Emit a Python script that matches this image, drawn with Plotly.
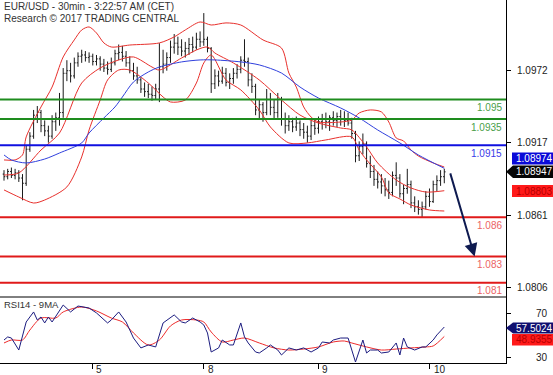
import plotly.graph_objects as go

# ---------------- DATA ----------------
bar_idx = list(range(120))
opens = [1.0893, 1.0891, 1.0895, 1.0892, 1.0894, 1.0890, 1.0886, 1.0912, 1.0922, 1.0938,
         1.0940, 1.0930, 1.0926, 1.0922, 1.0933, 1.0936, 1.0940, 1.0970, 1.0972, 1.0968,
         1.0978, 1.0983, 1.0984, 1.0982, 1.0983, 1.0979, 1.0981, 1.0977, 1.0974, 1.0973,
         1.0978, 1.0985, 1.0986, 1.0983, 1.0978, 1.0972, 1.0968, 1.0965, 1.0958, 1.0956,
         1.0954, 1.0953, 1.0958, 1.0975, 1.0977, 1.0982, 1.0990, 1.0993, 1.0990, 1.0987,
         1.0989, 1.0992, 1.0990, 1.0996, 1.0994, 1.0996, 1.0989, 1.0962, 1.0968, 1.0964,
         1.0970, 1.0963, 1.0966, 1.0970, 1.0973, 1.0980, 1.0979, 1.0965, 1.0960, 1.0942,
         1.0946, 1.0940, 1.0950, 1.0944, 1.0940, 1.0950, 1.0935, 1.0930, 1.0933, 1.0929,
         1.0932, 1.0927, 1.0925, 1.0922, 1.0930, 1.0928, 1.0933, 1.0935, 1.0933, 1.0936,
         1.0934, 1.0937, 1.0935, 1.0934, 1.0932, 1.0924, 1.0907, 1.0914, 1.0916, 1.0901,
         1.0895, 1.0889, 1.0887, 1.0884, 1.0881, 1.0879, 1.0892, 1.0890, 1.0878, 1.0882,
         1.0885, 1.0871, 1.0868, 1.0866, 1.0868, 1.0876, 1.0872, 1.0885, 1.0888, 1.0891]
highs = [1.0896, 1.0897, 1.0898, 1.0897, 1.0896, 1.0893, 1.0915, 1.0925, 1.0942, 1.0945,
         1.0942, 1.0934, 1.0930, 1.0938, 1.0940, 1.0955, 1.0974, 1.0980, 1.0978, 1.0982,
         1.0986, 1.0988, 1.0987, 1.0986, 1.0985, 1.0984, 1.0983, 1.0981, 1.0979, 1.0982,
         1.0988, 1.0992, 1.0991, 1.0987, 1.0983, 1.0978, 1.0975, 1.0967, 1.0963, 1.0962,
         1.0960, 1.0962, 1.0993, 1.0988, 1.0986, 1.0995, 1.1000, 1.0998, 1.0996, 1.0994,
         1.0997, 1.0998, 1.1001, 1.1002, 1.1016, 1.0998, 1.0990, 1.0973, 1.0972, 1.0975,
         1.0974, 1.0970, 1.0974, 1.0977, 1.0983, 1.0996, 1.0982, 1.0970, 1.0962, 1.0950,
         1.0948, 1.0958, 1.0955, 1.0950, 1.0955, 1.0952, 1.0940, 1.0938, 1.0936, 1.0937,
         1.0934, 1.0932, 1.0930, 1.0934, 1.0935, 1.0937, 1.0939, 1.0940, 1.0938, 1.0941,
         1.0940, 1.0942, 1.0941, 1.0940, 1.0936, 1.0926, 1.0918, 1.0924, 1.0918, 1.0907,
         1.0900, 1.0895, 1.0893, 1.0890, 1.0888, 1.0895, 1.0902, 1.0893, 1.0885, 1.0897,
         1.0888, 1.0876, 1.0873, 1.0872, 1.0880, 1.0882, 1.0888, 1.0892, 1.0896, 1.0897]
lows = [1.0888, 1.0889, 1.0890, 1.0889, 1.0887, 1.0873, 1.0884, 1.0910, 1.0920, 1.0932,
        1.0925, 1.0922, 1.0917, 1.0920, 1.0926, 1.0930, 1.0936, 1.0964, 1.0963, 1.0966,
        1.0975, 1.0978, 1.0979, 1.0978, 1.0976, 1.0976, 1.0972, 1.0971, 1.0969, 1.0971,
        1.0976, 1.0980, 1.0979, 1.0975, 1.0970, 1.0965, 1.0962, 1.0955, 1.0952, 1.0951,
        1.0949, 1.0950, 1.0948, 1.0970, 1.0972, 1.0978, 1.0985, 1.0984, 1.0983, 1.0982,
        1.0984, 1.0986, 1.0988, 1.0990, 1.0991, 1.0986, 1.0955, 1.0958, 1.0960, 1.0962,
        1.0960, 1.0958, 1.0962, 1.0966, 1.0970, 1.0975, 1.0960, 1.0955, 1.0938, 1.0935,
        1.0933, 1.0938, 1.0938, 1.0935, 1.0936, 1.0930, 1.0924, 1.0926, 1.0925, 1.0926,
        1.0922, 1.0920, 1.0917, 1.0919, 1.0923, 1.0924, 1.0927, 1.0928, 1.0926, 1.0930,
        1.0929, 1.0930, 1.0929, 1.0930, 1.0920, 1.0902, 1.0903, 1.0908, 1.0898, 1.0890,
        1.0884, 1.0882, 1.0878, 1.0876, 1.0874, 1.0876, 1.0884, 1.0875, 1.0870, 1.0878,
        1.0867, 1.0864, 1.0862, 1.0860, 1.0866, 1.0868, 1.0871, 1.0880, 1.0884, 1.0886]
closes = [1.0891, 1.0895, 1.0892, 1.0894, 1.0890, 1.0886, 1.0912, 1.0922, 1.0938, 1.0940,
          1.0930, 1.0926, 1.0922, 1.0933, 1.0936, 1.0940, 1.0970, 1.0972, 1.0968, 1.0978,
          1.0983, 1.0984, 1.0982, 1.0983, 1.0979, 1.0981, 1.0977, 1.0974, 1.0973, 1.0978,
          1.0985, 1.0986, 1.0983, 1.0978, 1.0972, 1.0968, 1.0965, 1.0958, 1.0956, 1.0954,
          1.0953, 1.0958, 1.0975, 1.0977, 1.0982, 1.0990, 1.0993, 1.0990, 1.0987, 1.0989,
          1.0992, 1.0990, 1.0996, 1.0994, 1.0996, 1.0989, 1.0962, 1.0968, 1.0964, 1.0970,
          1.0963, 1.0966, 1.0970, 1.0973, 1.0980, 1.0979, 1.0965, 1.0960, 1.0942, 1.0946,
          1.0940, 1.0950, 1.0944, 1.0940, 1.0950, 1.0935, 1.0930, 1.0933, 1.0929, 1.0932,
          1.0927, 1.0925, 1.0922, 1.0930, 1.0928, 1.0933, 1.0935, 1.0933, 1.0936, 1.0934,
          1.0937, 1.0935, 1.0934, 1.0932, 1.0924, 1.0907, 1.0914, 1.0916, 1.0901, 1.0895,
          1.0889, 1.0887, 1.0884, 1.0881, 1.0879, 1.0892, 1.0890, 1.0878, 1.0882, 1.0885,
          1.0871, 1.0868, 1.0866, 1.0868, 1.0876, 1.0872, 1.0885, 1.0888, 1.0891, 1.08947]

bb_upper_x = [0, 3, 5, 6, 10, 13, 16, 19, 21, 23, 25, 27, 29, 34, 42, 46, 49, 53, 56, 60,
              64, 70, 75, 77, 79, 81, 83, 85, 91, 94, 96, 99, 102, 104, 106, 108, 110, 112, 116, 119]
bb_upper = [1.09038, 1.09038, 1.09076, 1.09214, 1.09443, 1.09595, 1.09825, 1.09955, 1.10031, 1.10054,
            1.10008, 1.09932, 1.09901, 1.09916, 1.09932, 1.09978, 1.10031, 1.10092, 1.10069, 1.10085,
            1.10069, 1.09955, 1.09893, 1.09702, 1.09595, 1.09443, 1.09366, 1.09328, 1.09328, 1.09343,
            1.09397, 1.09420, 1.09405, 1.09328, 1.09206, 1.09183, 1.09114, 1.09068, 1.09015, 1.08984]
bb_mid_x = [0, 4, 10, 15, 21, 26, 31, 35, 40, 42, 48, 52, 55, 57, 62, 69, 75, 80, 85, 91,
            94, 98, 101, 106, 110, 114, 119]
bb_mid = [1.08923, 1.08939, 1.09114, 1.09244, 1.09626, 1.09741, 1.09802, 1.09825, 1.09748, 1.09725,
          1.09817, 1.09878, 1.09901, 1.09855, 1.09779, 1.09649, 1.09496, 1.09381, 1.09320, 1.09282,
          1.09267, 1.09137, 1.09015, 1.08885, 1.08824, 1.08793, 1.08803]
bb_lower_x = [0, 4, 8, 11, 17, 21, 23, 26, 28, 31, 34, 39, 43, 45, 49, 52, 54, 56, 60, 64,
              69, 72, 77, 82, 87, 94, 96, 98, 102, 104, 107, 110, 115, 119]
bb_lower = [1.08809, 1.08755, 1.08709, 1.08732, 1.08832, 1.09061, 1.09267, 1.09496, 1.09649, 1.09725,
            1.09725, 1.09626, 1.09519, 1.09481, 1.09496, 1.09626, 1.09779, 1.09840, 1.09649, 1.09573,
            1.09420, 1.09290, 1.09168, 1.09168, 1.09191, 1.09214, 1.09114, 1.09038, 1.08908, 1.08786,
            1.08740, 1.08694, 1.08656, 1.08648]
ma_x = [0, 2, 6, 11, 15, 21, 23, 27, 30, 32, 35, 39, 42, 48, 53, 57, 64, 69, 75, 80,
        85, 91, 96, 101, 107, 112, 119]
ma_long = [1.09076, 1.09038, 1.09015, 1.09045, 1.09091, 1.09168, 1.09244, 1.09359, 1.09443, 1.09519,
           1.09634, 1.09710, 1.09748, 1.09787, 1.09802, 1.09802, 1.09787, 1.09764, 1.09702, 1.09595,
           1.09511, 1.09435, 1.09359, 1.09267, 1.09168, 1.09076, 1.08974]

rsi_x = [0, 1, 2, 4, 6, 8, 9, 10, 11, 12, 13, 15, 16, 18, 20, 23, 25, 28, 29, 31,
         33, 35, 37, 39, 41, 43, 45, 46, 48, 49, 51, 53, 54, 55, 56, 58, 59, 61, 62, 64,
         65, 66, 68, 69, 71, 72, 74, 75, 77, 79, 81, 83, 85, 86, 88, 89, 91, 93, 94, 95,
         97, 98, 99, 101, 102, 104, 106, 107, 108, 109, 111, 113, 114, 116, 117, 119]
rsi = [45.7, 48.5, 47.5, 36.6, 62.1, 71.2, 63.9, 66.6, 61.2, 66.6, 62.1, 73.0, 77.5, 71.2, 76.6,
       74.8, 70.3, 61.2, 63.9, 71.2, 62.1, 47.5, 38.5, 41.2, 39.4, 61.2, 65.7, 68.5, 62.1, 61.2,
       65.7, 62.1, 59.4, 52.1, 34.8, 38.5, 45.7, 41.2, 41.2, 61.2, 48.5, 43.0, 34.8, 33.9, 38.5,
       41.2, 36.6, 32.1, 38.5, 36.6, 38.5, 34.8, 38.5, 43.9, 43.0, 45.7, 47.5, 47.5, 36.6, 25.7,
       45.7, 33.9, 36.6, 36.6, 33.9, 34.8, 43.0, 32.1, 47.5, 39.4, 36.6, 39.4, 39.4, 45.7, 50.3,
       57.5024]
rsi_ma_x = [0, 2, 5, 7, 10, 14, 16, 21, 25, 29, 32, 35, 39, 42, 45, 48, 52, 54, 56, 59,
            62, 65, 69, 73, 77, 81, 85, 89, 92, 94, 98, 102, 106, 110, 114, 116, 119]
rsi_ma = [43.0, 45.7, 45.7, 54.8, 65.7, 65.7, 71.2, 75.7, 72.1, 65.7, 62.1, 52.1, 41.2, 45.7, 58.5,
          63.9, 63.9, 62.1, 53.0, 43.9, 45.7, 47.5, 43.0, 38.5, 36.6, 37.5, 39.4, 43.9, 44.8, 43.0,
          39.4, 36.6, 37.5, 38.5, 39.4, 40.3, 48.9355]

levels = [1.095, 1.0935, 1.0915, 1.086, 1.083, 1.081]
level_labels = ["1.095", "1.0935", "1.0915", "1.086", "1.083", "1.081"]
level_colors = ["#1e8c1e", "#1e8c1e", "#1010e0", "#e01a1a", "#e01a1a", "#e01a1a"]
level_text_colors = ["#4a9e4a", "#4a9e4a", "#3a3ae8", "#ec6464", "#ec6464", "#ec6464"]

price_ticks = [1.0972, 1.0917, 1.0861, 1.0806]
rsi_ticks = [70, 30]
day_pos = [23.8, 54.0, 84.9, 115.1]
day_labels = ["5", "8", "9", "10"]
target = 1.083

# ---------------- LAYOUT HELPERS ----------------
PW, PH = 506.0, 363.0   # plot area in pixels (margins l=0,t=0)
def px(x):
    return x / PW
def py(y):
    return (PH - y) / PH

SPLIT = py(297)
FONT = "Liberation Sans, Arial, sans-serif"

fig = go.Figure()

fig.add_trace(go.Ohlc(x=bar_idx, open=opens, high=highs, low=lows, close=closes,
                      increasing_line_color="#1a1a1a", decreasing_line_color="#1a1a1a",
                      line_width=1, tickwidth=0.35, xaxis="x", yaxis="y", hoverinfo="skip"))

band_color = "#e8302c"
for bx, by in [(bb_upper_x, bb_upper), (bb_mid_x, bb_mid), (bb_lower_x, bb_lower)]:
    fig.add_trace(go.Scatter(x=bx, y=by, mode="lines", line=dict(color=band_color, width=1, shape="spline", smoothing=0.8),
                             xaxis="x", yaxis="y", hoverinfo="skip"))
fig.add_trace(go.Scatter(x=ma_x, y=ma_long, mode="lines", line=dict(color="#3040dd", width=1, shape="spline", smoothing=0.8),
                         xaxis="x", yaxis="y", hoverinfo="skip"))

fig.add_trace(go.Scatter(x=rsi_ma_x, y=rsi_ma, mode="lines", line=dict(color="#ee2a2a", width=1, shape="spline", smoothing=0.8),
                         xaxis="x", yaxis="y2", hoverinfo="skip"))
fig.add_trace(go.Scatter(x=rsi_x, y=rsi, mode="lines", line=dict(color="#1c1c80", width=1),
                         xaxis="x", yaxis="y2", hoverinfo="skip"))

shapes = []
annotations = []
for lv, lab, lc, tc in zip(levels, level_labels, level_colors, level_text_colors):
    shapes.append(dict(type="line", xref="paper", x0=0, x1=1, yref="y", y0=lv, y1=lv,
                       line=dict(color=lc, width=2), layer="above"))
    annotations.append(dict(xref="paper", x=px(504), yref="y", y=lv, yshift=-8, text=lab,
                            showarrow=False, xanchor="right", yanchor="middle",
                            font=dict(family=FONT, size=10, color=tc)))

# separator between panels
shapes.append(dict(type="line", xref="paper", x0=0, x1=1, yref="paper", y0=SPLIT, y1=SPLIT,
                   line=dict(color="#000000", width=1)))

# right-axis tick labels
for t in price_ticks:
    annotations.append(dict(xref="paper", x=px(550), yref="y", y=t, text=f"{t:.4f}", showarrow=False,
                            xanchor="right", yanchor="middle", font=dict(family=FONT, size=10, color="#222222")))
for t in rsi_ticks:
    annotations.append(dict(xref="paper", x=px(550), yref="y2", y=t, text=str(t), showarrow=False,
                            xanchor="right", yanchor="middle", font=dict(family=FONT, size=10, color="#222222")))
for d, lab in zip(day_pos, day_labels):
    annotations.append(dict(xref="x", x=d, xshift=2, yref="paper", y=py(369), text=lab, showarrow=False,
                            xanchor="left", yanchor="middle", font=dict(family=FONT, size=10, color="#222222")))

# value tags on the right
def tag(y0, y1, bg, txt, tc, arrow):
    if arrow:
        path = (f"M {px(506)},{py((y0 + y1) / 2)} L {px(513)},{py(y0)} L {px(553)},{py(y0)} "
                f"L {px(553)},{py(y1)} L {px(513)},{py(y1)} Z")
    else:
        path = (f"M {px(512)},{py(y0)} L {px(553)},{py(y0)} L {px(553)},{py(y1)} L {px(512)},{py(y1)} Z")
    shapes.append(dict(type="path", xref="paper", yref="paper", path=path, fillcolor=bg,
                       line=dict(width=0)))
    annotations.append(dict(xref="paper", x=px(534), yref="paper", y=py((y0 + y1) / 2), text=txt,
                            showarrow=False, xanchor="center", yanchor="middle",
                            font=dict(family=FONT, size=10, color=tc)))

tag(152.5, 164.5, "#0a0ad8", f"{ma_long[-1]:.5f}", "#ffffff", False)
tag(165.5, 178, "#050505", f"{closes[-1]:.5f}", "#ffffff", True)
tag(185, 197, "#ff1a1a", f"{bb_mid[-1]:.5f}", "#b80000", False)
tag(322.5, 333.5, "#101070", f"{rsi[-1]:.4f}", "#ffffff", True)
tag(334, 345.5, "#ff1a1a", f"{rsi_ma[-1]:.4f}", "#b80000", False)

# titles
annotations.append(dict(xref="paper", x=px(2), yref="paper", y=py(7), text="EUR/USD - 30min - 3:22:57 AM (CET)",
                        showarrow=False, xanchor="left", yanchor="middle", font=dict(family=FONT, size=10, color="#333333")))
annotations.append(dict(xref="paper", x=px(2), yref="paper", y=py(19), text="Research © 2017 TRADING CENTRAL",
                        showarrow=False, xanchor="left", yanchor="middle", font=dict(family=FONT, size=10, color="#333333")))
annotations.append(dict(xref="paper", x=px(2), yref="paper", y=py(304), text="RSI14 - 9MA",
                        showarrow=False, xanchor="left", yanchor="middle", font=dict(family=FONT, size=9.5, color="#333333")))

# forecast arrow
annotations.append(dict(xref="x", yref="y", x=bar_idx[-1] + 8.2, y=target, axref="x", ayref="y",
                        ax=bar_idx[-1] + 1.5, ay=closes[-1], showarrow=True, arrowhead=2, arrowsize=1.3,
                        arrowwidth=2, arrowcolor="#0e1a50", text=""))

fig.update_layout(
    width=553, height=375,
    margin=dict(l=0, r=47, t=0, b=12),
    paper_bgcolor="white", plot_bgcolor="white",
    showlegend=False,
    xaxis=dict(range=[-1.08, 135.68], domain=[0, 1], anchor="y2", showgrid=False, zeroline=False,
               showline=True, linecolor="#000000", linewidth=1, ticks="outside", ticklen=5,
               tickcolor="#000000", tickvals=day_pos, showticklabels=False,
               rangeslider=dict(visible=False), fixedrange=True),
    yaxis=dict(domain=[SPLIT, 1], range=[1.07991, 1.10260], side="right", anchor="x",
               showgrid=False, zeroline=False, showline=True, linecolor="#000000", linewidth=1,
               ticks="outside", ticklen=4, tickcolor="#000000", tickvals=price_ticks, showticklabels=False),
    yaxis2=dict(domain=[0, SPLIT], range=[24.8, 84.8], side="right", anchor="x",
                showgrid=False, zeroline=False, showline=True, linecolor="#000000", linewidth=1,
                ticks="outside", ticklen=4, tickcolor="#000000", tickvals=rsi_ticks, showticklabels=False),
    shapes=shapes,
    annotations=annotations,
)

fig.write_html("out.html")
